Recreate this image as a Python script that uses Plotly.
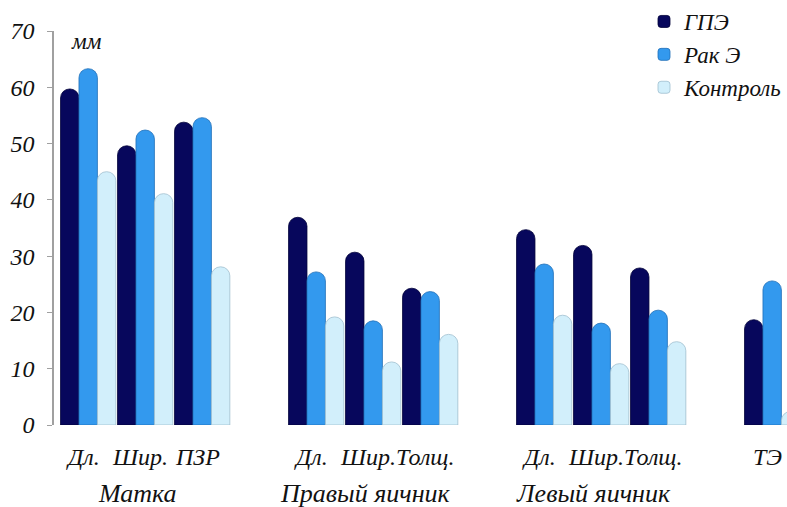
import plotly.graph_objects as go

positions = [0, 1, 2, 4, 5, 6, 8, 9, 10, 12]
tick_labels = ["Дл.", "Шир.", "ПЗР", "Дл.", "Шир.", "Толщ.", "Дл.", "Шир.", "Толщ.", "ТЭ"]
group_labels = ["Матка", "Правый яичник", "Левый яичник"]
group_centers = [1, 5, 9]

gpe = [59.7, 49.6, 53.8, 36.9, 30.7, 24.3, 34.7, 31.9, 27.9, 18.7]
rak = [63.3, 52.4, 54.6, 27.2, 18.5, 23.7, 28.6, 18.1, 20.4, 25.6]
control = [45.0, 41.1, 28.1, 19.2, 11.2, 16.1, 19.5, 10.9, 14.8, 2.4]

series = [("ГПЭ", gpe, "#07075c", "#000038"),
          ("Рак Э", rak, "#3399ee", "#1f6fb8"),
          ("Контроль", control, "#d2effb", "#9fbfcf")]

font_family = "Liberation Serif"

fig = go.Figure()
for name, vals, col, edge in series:
    fig.add_trace(go.Bar(
        x=positions, y=vals, name=name,
        marker=dict(color=col, line=dict(color=edge, width=0.8)),
    ))

annotations = []
for p, t in zip(positions, tick_labels):
    annotations.append(dict(x=p, y=0, xref="x", yref="y", text=t, showarrow=False,
                            yanchor="top", yshift=-17, xshift=-5,
                            font=dict(family=font_family, size=24, color="#111", style="italic")))
for c, t in zip(group_centers, group_labels):
    annotations.append(dict(x=c, y=0, xref="x", yref="y", text=t, showarrow=False,
                            yanchor="top", yshift=-52, xshift=-8,
                            font=dict(family=font_family, size=26, color="#111", style="italic")))
annotations.append(dict(x=0.02, y=1.0, xref="paper", yref="paper", text="мм", showarrow=False,
                        xanchor="left", yanchor="top", yshift=4,
                        font=dict(family=font_family, size=23, color="#111", style="italic")))

fig.update_layout(
    width=787, height=507,
    margin=dict(l=54, r=0, t=29, b=82),
    paper_bgcolor="white", plot_bgcolor="white",
    barmode="group", bargap=0.03, bargroupgap=0.0,
    barcornerradius=9,
    font=dict(family=font_family, style="italic"),
    xaxis=dict(range=[-0.6, 12.26], showticklabels=False, showline=False,
               showgrid=False, zeroline=False, ticks=""),
    yaxis=dict(range=[0, 70], dtick=10, showline=True, linecolor="#a0a0a0", linewidth=1.5,
               ticks="outside", ticklen=5, tickcolor="#a0a0a0", showgrid=False, zeroline=False,
               ticklabelstandoff=8,
               tickfont=dict(family=font_family, size=24, color="#111", style="italic")),
    legend=dict(x=1.0, xanchor="right", y=1.08, yanchor="top",
                font=dict(family=font_family, size=23, color="#111", style="italic"),
                bgcolor="rgba(0,0,0,0)", itemwidth=30, tracegroupgap=0),
    annotations=annotations,
)

fig.write_html("out.html")
